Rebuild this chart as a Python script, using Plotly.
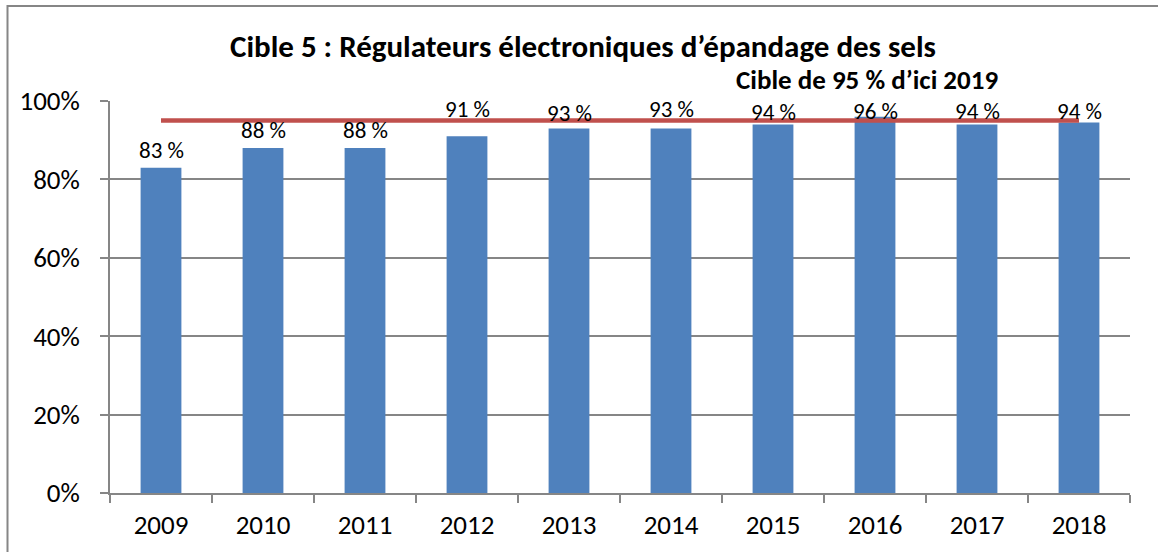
import plotly.graph_objects as go

years = ["2009", "2010", "2011", "2012", "2013", "2014", "2015", "2016", "2017", "2018"]
values = [83, 88, 88, 91, 93, 93, 94, 96, 94, 94.5]
value_labels = ["83 %", "88 %", "88 %", "91 %", "93 %", "93 %", "94 %", "96 %", "94 %", "94 %"]
target = 95
title_text = "Cible 5 : Régulateurs électroniques d’épandage des sels"
target_text = "Cible de 95 % d’ici 2019"
y_ticks = [0, 20, 40, 60, 80, 100]

# plot-area geometry (px)
W, H = 1158, 552
L, R, T, B = 110, 28, 101, 59
PW, PH = W - L - R, H - T - B

def px_x(px):
    return (px - L) / PW

def px_y(py):
    return (H - B - py) / PH

FONT = "Calibri, Carlito, Lato, sans-serif"

fig = go.Figure()
fig.add_trace(go.Bar(
    x=years, y=values, marker=dict(color="#4F81BD", line=dict(width=0)),
    showlegend=False, hoverinfo="skip"))
fig.add_trace(go.Scatter(
    x=years, y=[target] * len(years), mode="lines",
    line=dict(color="#C0504D", width=4.5), showlegend=False, hoverinfo="skip"))

# data labels: above bar, or above the target line when they would collide
label_nudge = [0, 0, 0, 0, 4, 0, 3, 2, 2, 2]
for i, (v, t, n) in enumerate(zip(values, value_labels, label_nudge)):
    if v + 3.2 < target - 2:
        fig.add_annotation(x=i, y=v, text=t, showarrow=False, yanchor="bottom",
                           yshift=2, font=dict(size=23, color="#000", family=FONT))
    else:
        fig.add_annotation(x=i, y=98, text=t, showarrow=False, yanchor="middle",
                           yshift=-n, font=dict(size=23, color="#000", family=FONT))

fig.add_annotation(xref="paper", yref="paper", x=px_x(583), y=px_y(46),
                   text="<b>" + title_text + "</b>", showarrow=False,
                   xanchor="center", yanchor="middle",
                   font=dict(size=31, color="#000", family=FONT))
fig.add_annotation(xref="paper", yref="paper", x=px_x(867), y=px_y(79),
                   text="<b>" + target_text + "</b>", showarrow=False,
                   xanchor="center", yanchor="middle",
                   font=dict(size=27, color="#000", family=FONT))

fig.add_shape(type="rect", xref="paper", yref="paper",
              x0=px_x(7.5), y0=px_y(600), x1=px_x(1200), y1=px_y(6),
              line=dict(color="#868686", width=2), fillcolor="rgba(0,0,0,0)")

fig.update_layout(
    width=W, height=H, margin=dict(l=L, r=R, t=T, b=B, pad=0),
    paper_bgcolor="white", plot_bgcolor="white",
    bargap=0.6,
    font=dict(family=FONT, size=27, color="#000"),
    xaxis=dict(type="category", range=[-0.5, 9.5], showline=True, linecolor="#868686",
               linewidth=1.5, ticks="outside", tickson="boundaries", ticklen=8,
               tickcolor="#868686", tickwidth=1.5, showgrid=False,
               tickfont=dict(size=27, family=FONT), ticklabelstandoff=7, tickangle=0),
    yaxis=dict(range=[0, 100], tickvals=y_ticks, ticktext=[f"{v}%" for v in y_ticks],
               showline=True, linecolor="#868686", linewidth=1.5,
               ticks="outside", ticklen=8, tickcolor="#868686", tickwidth=1.5,
               showgrid=True, gridcolor="#868686", gridwidth=1.5, zeroline=False,
               tickfont=dict(size=27, family=FONT), ticklabelstandoff=15),
)
fig.write_html("out.html", config={"displayModeBar": False},
               post_script="document.body.style.margin='0';")
